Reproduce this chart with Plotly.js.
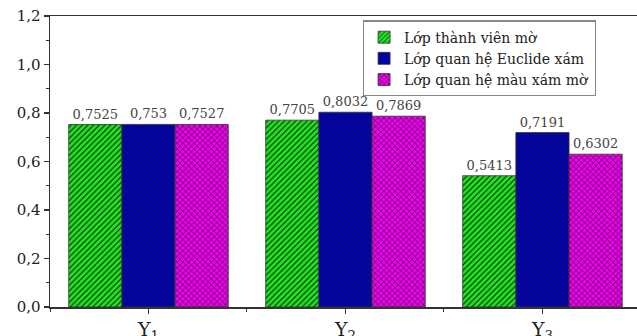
<!DOCTYPE html>
<html>
<head>
<meta charset="utf-8">
<script src="https://cdn.plot.ly/plotly-3.0.1.min.js"></script>
<style>html,body{margin:0;padding:0;background:#fff;}#chart{width:637px;height:336px;}</style>
</head>
<body>
<div id="chart"></div>
<script>
const categories = [1, 2, 3];
const categoryLabels = ["Y<sub>1</sub>", "Y<sub>2</sub>", "Y<sub>3</sub>"];
const seriesNames = ["Lớp thành viên mờ", "Lớp quan hệ Euclide xám", "Lớp quan hệ màu xám mờ"];
const memberFuzzy = [0.7525, 0.7705, 0.5413];
const euclidGrey = [0.753, 0.8032, 0.7191];
const greyFuzzy = [0.7527, 0.7869, 0.6302];
const yTickVals = [0, 0.2, 0.4, 0.6, 0.8, 1.0, 1.2];

const series = [memberFuzzy, euclidGrey, greyFuzzy];
const colors = ["#1ee61e", "#0000c8", "#f000f0"];
const shapes = ["/", "\\", "x"];
const serif = "DejaVu Serif";

const traces = series.map((vals, i) => ({
  type: "bar",
  name: seriesNames[i],
  x: categories,
  y: vals,
  text: vals.map(v => String(v).replace(".", ",")),
  textposition: "outside",
  cliponaxis: false,
  textfont: {family: serif, size: 13, color: "#444"},
  marker: {
    color: colors[i],
    line: {color: "#333", width: 0.8},
    pattern: {shape: shapes[i], fgcolor: "#111", bgcolor: colors[i], size: 4, solidity: 0.25, fillmode: "replace"}
  },
  hoverinfo: "skip"
}));

const layout = {
  width: 637, height: 336,
  margin: {l: 50, r: 0, t: 16, b: 29},
  paper_bgcolor: "#fff", plot_bgcolor: "#fff",
  font: {family: serif},
  separators: ", ",
  barmode: "group",
  bargap: 0.19,
  bargroupgap: 0,
  showlegend: true,
  legend: {
    x: 0.533, y: 0.985, xanchor: "left", yanchor: "top",
    bordercolor: "#888", borderwidth: 1.2, bgcolor: "#fff",
    font: {family: serif, size: 14, color: "#222"},
    tracegroupgap: 0
  },
  xaxis: {
    range: [0.5, 3.48],
    tickvals: categories, ticktext: categoryLabels,
    ticks: "outside", ticklen: 5, tickwidth: 1.5, tickcolor: "#333",
    minor: {tick0: 0.5, dtick: 1, ticks: "outside", ticklen: 3, tickcolor: "#333", tickwidth: 1},
    showline: true, linecolor: "#333", linewidth: 1.5, mirror: true,
    showgrid: false, zeroline: false,
    tickfont: {family: serif, size: 19, color: "#222"}
  },
  yaxis: {
    range: [0, 1.2],
    tickvals: yTickVals, tickformat: ".1f",
    ticks: "outside", ticklen: 5, tickwidth: 1.5, tickcolor: "#333",
    minor: {dtick: 0.1, ticks: "outside", ticklen: 3, tickcolor: "#333", tickwidth: 1},
    showline: true, linecolor: "#333", linewidth: 1.5,
    showgrid: false, zeroline: false,
    tickfont: {family: serif, size: 15, color: "#222"}
  }
};

Plotly.newPlot("chart", traces, layout, {staticPlot: true, displayModeBar: false});
</script>
</body>
</html>
